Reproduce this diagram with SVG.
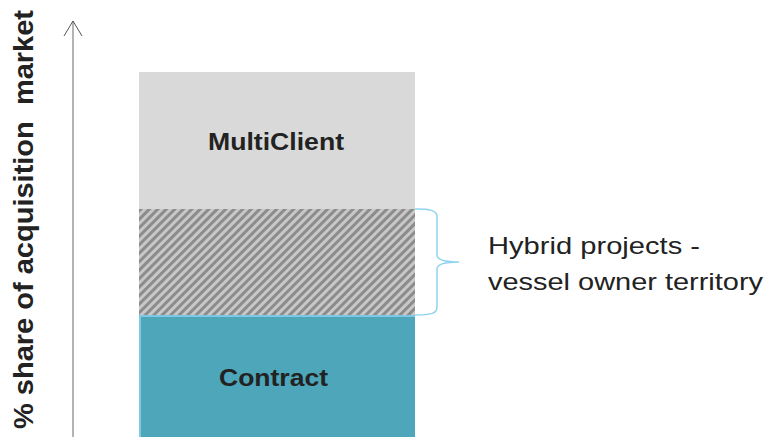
<svg xmlns="http://www.w3.org/2000/svg" width="768" height="437" viewBox="0 0 768 437">
<style>
.lbl{font-family:"Liberation Sans",Arial,sans-serif;fill:#222}
.b{font-weight:bold}
</style>
<defs>
<pattern id="hatch" patternUnits="userSpaceOnUse" width="6" height="6" patternTransform="rotate(-45)">
<rect width="6" height="6" fill="#c8c8c8"/>
<rect width="6" height="3" fill="#8c8c8c"/>
</pattern>
</defs>
<rect width="768" height="437" fill="#ffffff"/>
<g id="axis">
<line x1="73" y1="21" x2="73" y2="437" stroke="#9a9a9a" stroke-width="1.5"/>
<polyline points="64,36 73,21 82,36" fill="none" stroke="#555" stroke-width="1"/>
<text class="lbl b" xml:space="preserve" font-size="28" transform="translate(33,429) rotate(-90)" textLength="419" lengthAdjust="spacingAndGlyphs">% share of acquisition  market</text>
</g>
<g id="multiclient">
<rect x="139" y="72" width="276" height="137" fill="#d9d9d9"/>
<text class="lbl b" x="208" y="149.5" font-size="23.5" textLength="136" lengthAdjust="spacingAndGlyphs">MultiClient</text>
</g>
<g id="hybrid">
<rect x="139" y="209" width="276" height="106" fill="url(#hatch)"/>
</g>
<g id="contract">
<rect x="139" y="315" width="276" height="122" fill="#4da6b9"/>
<polyline points="140,437 140,316 415,316" fill="none" stroke="#7ec8e3" stroke-width="2"/>
<text class="lbl b" x="219" y="386" font-size="23.5" textLength="109" lengthAdjust="spacingAndGlyphs">Contract</text>
</g>
<g id="connectors">
<path d="M415,209 C430,209 437,210 437,217 L437,255 C437,260 445,262 459,262 C445,262 437,264 437,269 L437,307 C437,314 430,315 415,315" fill="none" stroke="#8fd3ef" stroke-width="1.5"/>
</g>
<g id="hybrid-label">
<text class="lbl" x="488" y="254" font-size="24" textLength="212" lengthAdjust="spacingAndGlyphs">Hybrid projects -</text>
<text class="lbl" x="488" y="289.5" font-size="24" textLength="275" lengthAdjust="spacingAndGlyphs">vessel owner territory</text>
</g>
</svg>
